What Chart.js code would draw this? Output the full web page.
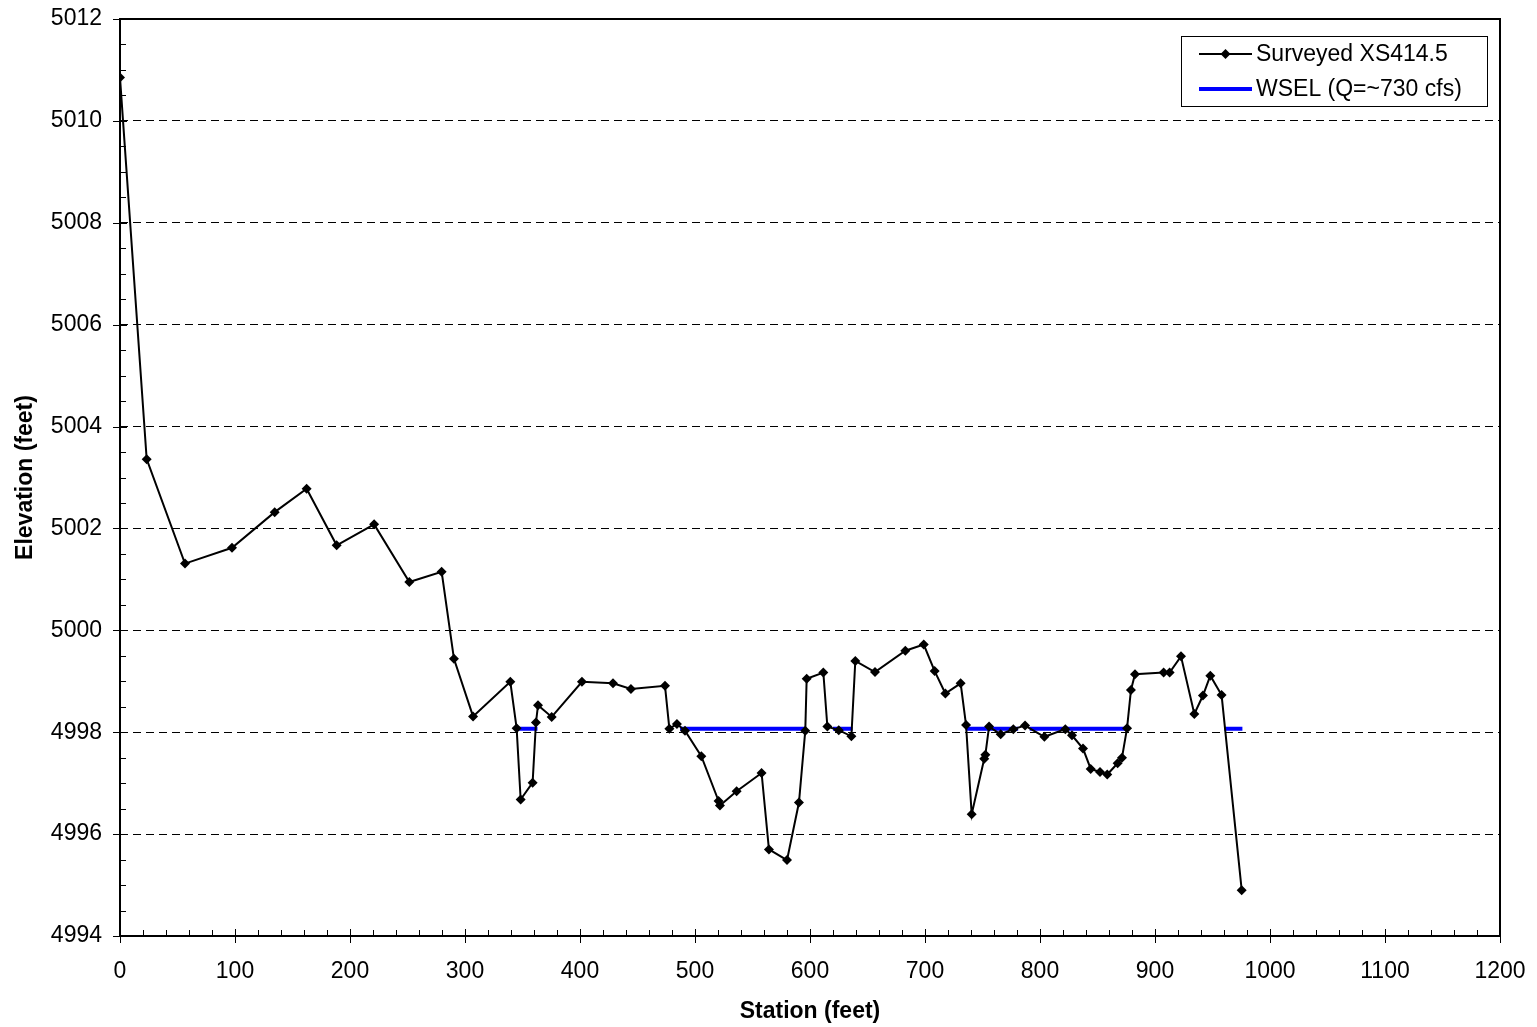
<!DOCTYPE html>
<html>
<head>
<meta charset="utf-8">
<script src="https://cdn.jsdelivr.net/npm/chart.js@4.4.1/dist/chart.umd.min.js"></script>
<style>
html,body{margin:0;padding:0;background:#fff;}
#wrap{position:relative;width:1537px;height:1027px;}
</style>
</head>
<body>
<div id="wrap"><canvas id="c" width="1537" height="1027"></canvas></div>
<script>
// Surveyed cross-section XS414.5
const stations = [0, 23.2, 56.5, 97.4, 134.5, 162.3, 188.4, 221, 251.6, 279.7, 290.4, 307, 339.4, 344.9, 348.4, 358.8, 361.7, 363.5, 375.4, 401.7, 428.7, 444.3, 473.9, 477.7, 484.3, 491.3, 505.5, 520.5, 521.7, 536.2, 557.9, 564.3, 580, 590.4, 595.9, 597.1, 611.6, 615.1, 625, 636, 639.4, 656.5, 682.9, 698.9, 708.4, 717.7, 731, 735.7, 740.6, 751.5, 752.5, 755.7, 765.8, 776.8, 787, 803.8, 822, 827.8, 837.4, 844.1, 852.2, 858.5, 867.5, 871.3, 875.7, 879.1, 882.6, 907.5, 912.7, 922.6, 934.2, 941.7, 948.1, 957.9, 975.4];
const elevations = [5010.85, 5003.36, 5001.31, 5001.62, 5002.32, 5002.78, 5001.67, 5002.08, 5000.95, 5001.15, 4999.44, 4998.31, 4998.99, 4998.08, 4996.68, 4997.01, 4998.19, 4998.53, 4998.30, 4998.99, 4998.96, 4998.85, 4998.91, 4998.07, 4998.16, 4998.03, 4997.53, 4996.65, 4996.56, 4996.84, 4997.20, 4995.70, 4995.49, 4996.62, 4998.03, 4999.05, 4999.17, 4998.11, 4998.04, 4997.92, 4999.40, 4999.18, 4999.60, 4999.72, 4999.20, 4998.76, 4998.96, 4998.14, 4996.39, 4997.48, 4997.56, 4998.11, 4997.96, 4998.06, 4998.13, 4997.91, 4998.06, 4997.94, 4997.68, 4997.28, 4997.22, 4997.17, 4997.39, 4997.50, 4998.08, 4998.83, 4999.14, 4999.17, 4999.17, 4999.49, 4998.36, 4998.72, 4999.11, 4998.73, 4994.90];

// Water surface elevation segments
const wselLevel = 4998.07;
const wselStarts = [345, 487, 620, 735.7, 791, 960.3];
const wselEnds   = [363, 596, 637, 781, 875.7, 976];

// Axis ticks
const xTicks = [0, 100, 200, 300, 400, 500, 600, 700, 800, 900, 1000, 1100, 1200];
const yTicks = [4994, 4996, 4998, 5000, 5002, 5004, 5006, 5008, 5010, 5012];

const seriesLabels = ['Surveyed XS414.5', 'WSEL (Q=~730 cfs)'];
const xTitle = 'Station (feet)';
const yTitle = 'Elevation (feet)';

const FONT = "'Liberation Sans', Arial, sans-serif";

const surveyData = stations.map((s, i) => ({x: s, y: elevations[i]}));
const wselData = [];
wselStarts.forEach((s, i) => {
  wselData.push({x: s, y: wselLevel});
  wselData.push({x: wselEnds[i], y: wselLevel});
  if (i < wselStarts.length - 1) wselData.push({x: (wselEnds[i] + wselStarts[i+1]) / 2, y: null});
});

const framePlugin = {
  id: 'frame',
  afterDatasetsDraw(chart) {
    const ctx = chart.ctx;
    const a = chart.chartArea;
    const xs = chart.scales.x, ys = chart.scales.y;
    ctx.save();
    ctx.strokeStyle = '#000';
    ctx.lineWidth = 1;
    ctx.beginPath();
    for (let v = 4994; v <= 5012.001; v += 0.5) {
      const y = Math.round(ys.getPixelForValue(v)) + 0.5;
      const major = Math.abs(v / 2 - Math.round(v / 2)) < 1e-6;
      if (major) { ctx.moveTo(a.left - 7, y); ctx.lineTo(a.left + 7, y); }
      else { ctx.moveTo(a.left, y); ctx.lineTo(a.left + 6, y); }
    }
    for (let v = 0; v <= 1200.001; v += 20) {
      const x = Math.round(xs.getPixelForValue(v)) + 0.5;
      const major = Math.abs(v / 100 - Math.round(v / 100)) < 1e-6;
      if (major) { ctx.moveTo(x, a.bottom - 7); ctx.lineTo(x, a.bottom + 7); }
      else { ctx.moveTo(x, a.bottom); ctx.lineTo(x, a.bottom - 6); }
    }
    ctx.stroke();
    ctx.lineWidth = 2;
    ctx.strokeRect(a.left, a.top, a.right - a.left, a.bottom - a.top);

    // legend
    const lx = 1181, ly = 36, lw = 306, lh = 70;
    ctx.fillStyle = '#fff';
    ctx.fillRect(lx, ly, lw, lh);
    ctx.lineWidth = 1;
    ctx.strokeStyle = '#000';
    ctx.strokeRect(lx + 0.5, ly + 0.5, lw, lh);
    const rows = [ly + 18, ly + 53];
    ctx.lineWidth = 2;
    ctx.beginPath(); ctx.moveTo(1199, rows[0]); ctx.lineTo(1252, rows[0]); ctx.stroke();
    ctx.fillStyle = '#000';
    ctx.beginPath();
    const cx = 1225.5, cy = rows[0], r = 5;
    ctx.moveTo(cx, cy - r); ctx.lineTo(cx + r, cy); ctx.lineTo(cx, cy + r); ctx.lineTo(cx - r, cy); ctx.closePath(); ctx.fill();
    ctx.strokeStyle = '#0000ff';
    ctx.lineWidth = 4;
    ctx.beginPath(); ctx.moveTo(1199, rows[1]); ctx.lineTo(1252, rows[1]); ctx.stroke();
    ctx.fillStyle = '#000';
    ctx.font = '23px ' + FONT;
    ctx.textBaseline = 'middle';
    ctx.textAlign = 'left';
    ctx.fillText(seriesLabels[0], 1256, rows[0] + 1);
    ctx.fillText(seriesLabels[1], 1256, rows[1] + 1);
    ctx.restore();
  }
};

new Chart(document.getElementById('c'), {
  type: 'scatter',
  data: {
    datasets: [
      {
        label: seriesLabels[0],
        data: surveyData,
        showLine: true,
        borderColor: '#000',
        backgroundColor: '#000',
        borderWidth: 2,
        pointStyle: 'rectRot',
        pointRadius: 5,
        pointBorderWidth: 0,
        tension: 0
      },
      {
        label: seriesLabels[1],
        data: wselData,
        showLine: true,
        spanGaps: false,
        borderColor: '#0000ff',
        backgroundColor: '#0000ff',
        borderWidth: 4,
        pointRadius: 0,
        tension: 0
      }
    ]
  },
  options: {
    responsive: false,
    animation: false,
    devicePixelRatio: 1,
    layout: { padding: { top: 19, right: 37, left: 0, bottom: 0 } },
    plugins: { legend: { display: false }, tooltip: { enabled: false } },
    scales: {
      x: {
        type: 'linear',
        min: 0, max: 1200,
        afterBuildTicks: (s) => { s.ticks = xTicks.map(v => ({value: v})); },
        afterFit: (s) => { s.height = 91; s.paddingLeft = 0; s.paddingRight = 0; },
        grid: { display: false, drawTicks: false },
        border: { display: false },
        ticks: { color: '#000', font: { family: FONT, size: 23 }, padding: 22, maxRotation: 0, callback: (v) => String(v) },
        title: { display: true, text: xTitle, color: '#000', font: { family: FONT, size: 23, weight: 'bold' }, padding: { top: 0, bottom: 2 } }
      },
      y: {
        type: 'linear',
        min: 4994, max: 5012,
        afterBuildTicks: (s) => { s.ticks = yTicks.map(v => ({value: v})); },
        afterFit: (s) => { s.width = 120; s.paddingTop = 0; s.paddingBottom = 0; },
        grid: { display: true, drawTicks: false, color: '#000', lineWidth: 1 },
        border: { display: false, dash: [8, 5] },
        ticks: { color: '#000', font: { family: FONT, size: 23 }, padding: 18, callback: (v) => String(v) },
        title: { display: true, text: yTitle, color: '#000', font: { family: FONT, size: 23, weight: 'bold' }, padding: { top: 12, bottom: 0 } }
      }
    }
  },
  plugins: [framePlugin]
});
</script>
</body>
</html>
